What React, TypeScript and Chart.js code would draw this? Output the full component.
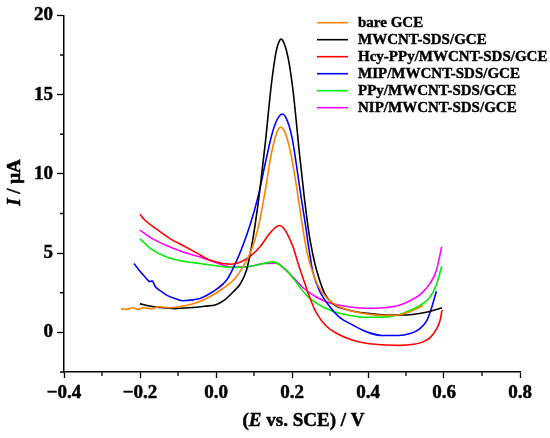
import React, { useEffect, useRef } from "react";
import { Chart, registerables } from "chart.js";

Chart.register(...registerables);

// potential E (V vs. SCE), current I (µA)
const bareGce: [number, number][] = [
  [-0.25, 1.5], [-0.235, 1.45], [-0.22, 1.55], [-0.205, 1.45], [-0.19, 1.55],
  [-0.17, 1.5], [-0.15, 1.62], [-0.12, 1.55], [-0.1, 1.6], [-0.06, 1.8],
  [-0.02, 2.2], [0.02, 2.8], [0.05, 3.4], [0.07, 4.1], [0.09, 5.0],
  [0.11, 6.5], [0.13, 9.0], [0.145, 11.2], [0.16, 12.6], [0.17, 12.94],
  [0.18, 12.7], [0.195, 11.5], [0.21, 9.5], [0.225, 7.1], [0.24, 5.0],
  [0.26, 3.4], [0.28, 2.5], [0.31, 1.8], [0.35, 1.4], [0.4, 1.15],
  [0.44, 1.07], [0.48, 1.1], [0.51, 1.3], [0.545, 1.7],
];

const mwcnt: [number, number][] = [
  [-0.2, 1.8], [-0.17, 1.65], [-0.14, 1.55], [-0.11, 1.5], [-0.07, 1.55],
  [-0.03, 1.65], [0.0, 1.75], [0.02, 2.0], [0.045, 2.55], [0.065, 3.1],
  [0.08, 3.9], [0.092, 5.2], [0.103, 6.8], [0.115, 8.9], [0.13, 12.0],
  [0.145, 15.5], [0.158, 17.7], [0.166, 18.35], [0.171, 18.5], [0.18, 18.2],
  [0.19, 17.3], [0.203, 15.2], [0.22, 11.2], [0.232, 8.6], [0.245, 6.2],
  [0.255, 4.9], [0.265, 3.9], [0.285, 2.5], [0.308, 1.8], [0.35, 1.4],
  [0.4, 1.2], [0.45, 1.1], [0.5, 1.1], [0.55, 1.25], [0.595, 1.55],
];

const hcyPpy: [number, number][] = [
  [-0.2, 7.45], [-0.19, 7.15], [-0.15, 6.4], [-0.12, 5.9], [-0.087, 5.48],
  [-0.05, 5.0], [-0.02, 4.6], [0.018, 4.35], [0.04, 4.3], [0.063, 4.43],
  [0.09, 4.8], [0.116, 5.4], [0.14, 6.2], [0.155, 6.6], [0.168, 6.74],
  [0.18, 6.5], [0.192, 6.0], [0.203, 5.37], [0.218, 4.2], [0.234, 3.08],
  [0.25, 2.0], [0.265, 1.2], [0.29, 0.4], [0.318, -0.07], [0.36, -0.5],
  [0.4, -0.7], [0.45, -0.8], [0.484, -0.82], [0.52, -0.75], [0.545, -0.6],
  [0.565, -0.3], [0.58, 0.2], [0.589, 0.7], [0.595, 1.4],
];

const mip: [number, number][] = [
  [-0.216, 4.35], [-0.2, 3.85], [-0.185, 3.45], [-0.174, 3.2], [-0.168, 3.25],
  [-0.16, 2.9], [-0.145, 2.6], [-0.13, 2.35], [-0.11, 2.15], [-0.087, 2.0],
  [-0.06, 2.05], [-0.04, 2.15], [-0.025, 2.33], [0.0, 2.7], [0.028, 3.3],
  [0.05, 4.3], [0.071, 5.5], [0.09, 6.8], [0.11, 8.5], [0.13, 10.7],
  [0.145, 12.3], [0.155, 13.1], [0.165, 13.6], [0.174, 13.78], [0.185, 13.5],
  [0.2, 12.3], [0.212, 10.5], [0.221, 9.0], [0.234, 7.0], [0.245, 5.2],
  [0.255, 3.8], [0.275, 2.5], [0.3, 1.6], [0.325, 0.95], [0.353, 0.55],
  [0.4, 0.0], [0.44, -0.2], [0.48, -0.2], [0.511, -0.07], [0.535, 0.2],
  [0.555, 0.76], [0.568, 1.6], [0.58, 2.6],
];

const ppy: [number, number][] = [
  [-0.2, 5.9], [-0.17, 5.25], [-0.13, 4.75], [-0.09, 4.5], [-0.042, 4.35],
  [0.0, 4.2], [0.045, 4.1], [0.089, 4.16], [0.116, 4.3], [0.15, 4.43],
  [0.165, 4.3], [0.186, 3.9], [0.205, 3.35], [0.221, 2.85], [0.24, 2.3],
  [0.265, 1.83], [0.3, 1.4], [0.353, 1.07], [0.4, 0.95], [0.44, 0.96],
  [0.48, 1.1], [0.511, 1.39], [0.54, 1.75], [0.563, 2.22], [0.58, 3.0],
  [0.594, 4.18],
];

const nip: [number, number][] = [
  [-0.2, 6.45], [-0.17, 5.95], [-0.13, 5.48], [-0.09, 5.1], [-0.042, 4.75],
  [0.0, 4.4], [0.045, 4.12], [0.089, 4.16], [0.125, 4.35], [0.16, 4.37],
  [0.18, 4.0], [0.203, 3.48], [0.23, 2.8], [0.265, 2.22], [0.3, 1.85],
  [0.353, 1.6], [0.4, 1.52], [0.44, 1.55], [0.48, 1.7], [0.511, 2.0],
  [0.54, 2.45], [0.563, 3.08], [0.58, 3.9], [0.594, 5.4],
];

const seriesNames = [
  "bare GCE",
  "MWCNT-SDS/GCE",
  "Hcy-PPy/MWCNT-SDS/GCE",
  "MIP/MWCNT-SDS/GCE",
  "PPy/MWCNT-SDS/GCE",
  "NIP/MWCNT-SDS/GCE",
];
const seriesData = [bareGce, mwcnt, hcyPpy, mip, ppy, nip];
const seriesColors = ["#ff8000", "#000000", "#ff0000", "#0000ff", "#00ee00", "#ff00ff"];

const xTicks = [-0.4, -0.2, 0.0, 0.2, 0.4, 0.6, 0.8];
const xMinor = [-0.3, -0.1, 0.1, 0.3, 0.5, 0.7];
const yTicks = [0, 5, 10, 15, 20];
const yMinor = [-2.5, 2.5, 7.5, 12.5, 17.5];

const FONT = "'Liberation Serif', 'Times New Roman', serif";

// text runs with mixed fonts, centred on x; a thin stroke makes it heavier like the original
const drawRuns = (ctx: CanvasRenderingContext2D, runs: [string, string][], x: number, y: number) => {
  let total = 0;
  runs.forEach(([t, f]) => {
    ctx.font = f;
    total += ctx.measureText(t).width;
  });
  let cx = x - total / 2;
  runs.forEach(([t, f]) => {
    ctx.font = f;
    ctx.fillText(t, cx, y);
    ctx.strokeText(t, cx, y);
    cx += ctx.measureText(t).width;
  });
};

const decorPlugin = {
  id: "decor",
  afterDraw(chart: any) {
    const { ctx, chartArea, scales } = chart;
    ctx.save();
    // minor ticks
    ctx.strokeStyle = "#000";
    ctx.lineWidth = 1.3;
    ctx.beginPath();
    xMinor.forEach((v) => {
      const px = scales.x.getPixelForValue(v);
      ctx.moveTo(px, chartArea.bottom);
      ctx.lineTo(px, chartArea.bottom + 4);
    });
    yMinor.forEach((v) => {
      const py = scales.y.getPixelForValue(v);
      ctx.moveTo(chartArea.left - 4, py);
      ctx.lineTo(chartArea.left, py);
    });
    ctx.stroke();

    // axis titles
    ctx.fillStyle = "#000";
    ctx.strokeStyle = "#000";
    ctx.lineWidth = 0.5;
    ctx.textBaseline = "middle";
    ctx.textAlign = "left";
    const b = `bold 19px ${FONT}`;
    const bi = `italic bold 19px ${FONT}`;
    drawRuns(ctx, [["(", b], ["E", bi], [" vs. SCE) / V", b]], 303.5, 421);
    ctx.save();
    ctx.translate(15, 182.5);
    ctx.rotate(-Math.PI / 2);
    drawRuns(ctx, [["I", bi], [" / \u03bcA", b]], 0, 0);
    ctx.restore();

    // legend
    chart.data.datasets.forEach((ds: any, i: number) => {
      const y = 22.7 + i * 17;
      ctx.strokeStyle = ds.borderColor;
      ctx.lineWidth = 1.6;
      ctx.beginPath();
      ctx.moveTo(317, y);
      ctx.lineTo(348, y);
      ctx.stroke();
      ctx.font = `bold 15px ${FONT}`;
      ctx.strokeStyle = "#000";
      ctx.lineWidth = 0.4;
      ctx.fillText(ds.label, 358, y + 0.5);
      ctx.strokeText(ds.label, 358, y + 0.5);
    });
    ctx.restore();
  },
};

const fmtX = (v: number) => v.toFixed(1).replace("-", "\u2212");

const App = () => {
  const canvasRef = useRef<HTMLCanvasElement>(null);

  useEffect(() => {
    document.body.style.margin = "0";
    if (!canvasRef.current) return;

    const tickFont = { family: FONT, size: 19, weight: "bold" as const };

    const chart = new Chart(canvasRef.current, {
      type: "scatter",
      data: {
        datasets: seriesNames.map((name, i) => ({
          label: name,
          data: seriesData[i].map(([x, y]) => ({ x, y })),
          borderColor: seriesColors[i],
          backgroundColor: seriesColors[i],
          borderWidth: 1.6,
          showLine: true,
          pointRadius: 0,
          cubicInterpolationMode: "monotone" as const,
        })),
      },
      options: {
        animation: false,
        responsive: true,
        maintainAspectRatio: false,
        layout: { padding: { top: 14, right: 30, left: 0, bottom: 0 } },
        plugins: { legend: { display: false }, tooltip: { enabled: false } },
        scales: {
          x: {
            type: "linear",
            min: -0.4,
            max: 0.8,
            afterBuildTicks: (s: any) => {
              s.ticks = xTicks.map((value) => ({ value }));
            },
            afterFit: (s: any) => {
              s.height = 66;
            },
            ticks: {
              font: tickFont,
              color: "#000",
              padding: 4,
              maxRotation: 0,
              textStrokeColor: "#000",
              textStrokeWidth: 0.5,
              callback: (v: any) => fmtX(Number(v)),
            },
            grid: {
              drawOnChartArea: false,
              drawTicks: true,
              tickLength: 6,
              tickColor: "#000",
              tickWidth: 1.3,
            },
            border: { color: "#000", width: 1.5 },
          },
          y: {
            type: "linear",
            min: -2.5,
            max: 20,
            afterBuildTicks: (s: any) => {
              s.ticks = yTicks.map((value) => ({ value }));
            },
            afterFit: (s: any) => {
              s.width = 64;
            },
            ticks: {
              font: tickFont,
              color: "#000",
              padding: 4,
              textStrokeColor: "#000",
              textStrokeWidth: 0.5,
              callback: (v: any) => String(v),
            },
            grid: {
              drawOnChartArea: false,
              drawTicks: true,
              tickLength: 7,
              tickColor: "#000",
              tickWidth: 1.3,
            },
            border: { color: "#000", width: 1.5 },
          },
        },
      },
      plugins: [decorPlugin],
    });

    return () => {
      chart.destroy();
    };
  }, []);

  return (
    <div style={{ width: 550, height: 438, position: "relative" }}>
      <canvas ref={canvasRef} />
    </div>
  );
};

export default App;
